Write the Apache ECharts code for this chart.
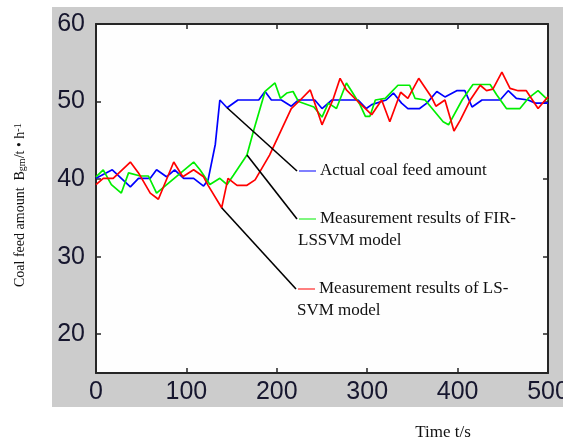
<!DOCTYPE html>
<html>
<head>
<meta charset="utf-8">
<title>Coal feed amount</title>
<script src="https://cdn.jsdelivr.net/npm/echarts@6/dist/echarts.min.js"></script>
<style>
html, body { margin: 0; padding: 0; background: #fff; }
#chartmain { width: 563px; height: 444px; }
</style>
</head>
<body>
<div id="chartmain"></div>
<script>
// tick labels
var xTicks = [0, 100, 200, 300, 400, 500];
var yTicks = [20, 30, 40, 50, 60];

// Actual coal feed amount
var actualTime = [0, 18, 38, 47, 60, 67, 78, 87, 97, 108, 119, 124, 132, 137, 145, 157, 180, 187, 194, 205,
    216, 224, 242, 250, 261, 290, 299, 305, 321, 329, 338, 345, 358, 366, 377, 386, 399, 408, 416, 427,
    447, 456, 465, 478, 486, 500];
var actualValue = [40.1, 41.2, 39.0, 40.1, 40.1, 41.2, 40.3, 41.2, 40.1, 40.1, 39.1, 39.9, 44.5, 50.2, 49.2, 50.2, 50.2, 51.3, 50.2, 50.2,
    49.4, 50.2, 50.2, 49.1, 50.2, 50.2, 49.1, 49.6, 50.2, 51.1, 49.8, 49.1, 49.1, 49.8, 51.3, 50.6, 51.4, 51.4, 49.3, 50.2,
    50.2, 51.4, 50.4, 50.2, 49.8, 49.8];

// Measurement results of FIR-LSSVM model
var firTime = [0, 8, 17, 28, 36, 49, 58, 67, 108, 115, 126, 137, 145, 152, 167, 174, 187, 198, 204, 211,
    218, 224, 241, 250, 257, 266, 277, 283, 292, 298, 303, 309, 320, 334, 347, 353, 364, 384, 390, 405,
    417, 436, 443, 454, 469, 478, 489, 500];
var firValue = [40.3, 41.2, 39.3, 38.2, 40.8, 40.4, 40.4, 38.2, 42.2, 41.2, 39.3, 40.1, 39.3, 40.5, 43.1, 46.1, 51.3, 52.4, 50.4, 51.1,
    51.3, 50.0, 49.3, 48.0, 49.8, 49.1, 52.4, 51.3, 49.6, 48.1, 48.1, 50.2, 50.4, 52.1, 52.1, 50.4, 50.2, 47.4, 47.0, 50.2,
    52.2, 52.2, 50.9, 49.1, 49.1, 50.4, 51.4, 50.2];

// Measurement results of LS-SVM model
var lsTime = [0, 8, 19, 38, 47, 60, 69, 86, 96, 108, 119, 124, 139, 146, 156, 167, 176, 192, 204, 216,
    226, 237, 244, 250, 262, 270, 277, 288, 298, 305, 316, 325, 337, 345, 357, 371, 376, 386, 396, 403,
    414, 425, 432, 439, 449, 458, 467, 476, 489, 500];
var lsValue = [39.3, 40.1, 40.1, 42.2, 40.8, 38.2, 37.4, 42.2, 40.3, 41.2, 40.3, 39.2, 36.3, 40.1, 39.2, 39.2, 39.9, 43.1, 46.1, 49.1,
    50.2, 51.5, 49.1, 47.0, 50.2, 53.0, 51.5, 50.2, 49.1, 48.3, 50.2, 47.4, 51.2, 50.4, 53.0, 50.6, 49.4, 50.2, 46.2, 47.6,
    50.2, 52.1, 51.4, 51.6, 53.8, 51.7, 51.4, 51.4, 49.1, 50.6];

var seriesNames = ['Actual coal feed amount', 'Measurement results of FIR-LSSVM model', 'Measurement results of LS-SVM model'];
var seriesColors = ['#0000ff', '#00ee00', '#ff0000'];
// index of the point each leader line starts from
var leaderPoint = [14, 14, 12];

function pairs(ts, vs) {
    return ts.map(function (t, i) { return [t, vs[i]]; });
}

function setChartMain() {
    var axisColor = '#262626';
    var serif = '"Liberation Serif", "Times New Roman", serif';
    var sans = '"Liberation Sans", Arial, sans-serif';
    var data = [pairs(actualTime, actualValue), pairs(firTime, firValue), pairs(lsTime, lsValue)];

    function xAxisOf(pos, showLabel) {
        return {
            type: 'value', position: pos, min: 0, max: 500, interval: 100,
            axisLine: { onZero: false, lineStyle: { color: axisColor, width: 2 } },
            axisTick: { inside: true, length: 5, lineStyle: { color: axisColor, width: 1.5 } },
            axisLabel: { show: showLabel, fontFamily: sans, fontSize: 25, color: '#16162e', margin: 7,
                customValues: xTicks },
            splitLine: { show: false }
        };
    }
    function yAxisOf(pos, showLabel) {
        return {
            type: 'value', position: pos, min: 15, max: 60,
            axisLine: { onZero: false, lineStyle: { color: axisColor, width: 2 } },
            axisTick: { inside: true, length: 5, customValues: yTicks, lineStyle: { color: axisColor, width: 1.5 } },
            axisLabel: { show: showLabel, fontFamily: sans, fontSize: 25, color: '#16162e', margin: 11,
                customValues: yTicks },
            splitLine: { show: false }
        };
    }

    var option = {
        animation: false,
        backgroundColor: '#ffffff',
        grid: {
            left: 96, top: 24, width: 452, height: 349, show: true, backgroundColor: '#fefefe', borderWidth: 0,
            containLabel: false, outerBoundsMode: 'none'
        },
        xAxis: [xAxisOf('bottom', true), xAxisOf('top', false)],
        yAxis: [yAxisOf('left', true), yAxisOf('right', false)],
        series: data.map(function (d, i) {
            return {
                name: seriesNames[i],
                type: 'line',
                data: d,
                symbol: 'none',
                xAxisIndex: 0,
                yAxisIndex: 0,
                lineStyle: { color: seriesColors[i], width: 1.7 },
                z: 3 + i
            };
        })
    };
    //初始化echarts实例
    var myChart = echarts.init(document.getElementById('chartmain'));
    myChart.setOption(option);

    // gray frame, axis titles, annotations with leader lines
    var graphics = [{
        type: 'rect', z: -100, silent: true,
        shape: { x: 52, y: 7, width: 511, height: 400 },
        style: { fill: '#cccccc' }
    }, {
        type: 'text', x: 443, y: 433, z: 100,
        style: { text: 'Time t/s', font: '17px ' + serif, fill: '#111', align: 'center', verticalAlign: 'middle' }
    }, {
        type: 'text', x: 20, y: 287, z: 100, rotation: Math.PI / 2,
        style: {
            text: 'Coal feed amount  B{sub|gm}/t • h{sup|-1}',
            font: '14px ' + serif, fill: '#111', align: 'left', verticalAlign: 'middle',
            rich: {
                sub: { fontSize: 10, fontFamily: serif, verticalAlign: 'bottom', lineHeight: 10 },
                sup: { fontSize: 10, fontFamily: serif, verticalAlign: 'top', lineHeight: 10 }
            }
        }
    }];

    var leaderEnd = [[297, 171], [297, 219], [296, 289]];
    var labelLines = [
        ['Actual coal feed amount'],
        ['Measurement results of FIR-', 'LSSVM model'],
        ['Measurement results of LS-', 'SVM model']
    ];
    data.forEach(function (d, i) {
        var p = myChart.convertToPixel({ gridIndex: 0 }, d[leaderPoint[i]]);
        var e = leaderEnd[i];
        graphics.push({
            type: 'line', z: 50, silent: true,
            shape: { x1: p[0], y1: p[1], x2: e[0], y2: e[1] },
            style: { stroke: '#000', lineWidth: 1.6 }
        });
        graphics.push({
            type: 'line', z: 50, silent: true,
            shape: { x1: e[0] + 2, y1: e[1], x2: e[0] + 19, y2: e[1] },
            style: { stroke: seriesColors[i], lineWidth: 1 }
        });
        graphics.push({
            type: 'text', x: e[0] + 23, y: e[1], z: 60,
            style: { text: labelLines[i][0], font: '17px ' + serif, fill: '#111', verticalAlign: 'middle' }
        });
        if (labelLines[i][1]) {
            graphics.push({
                type: 'text', x: e[0] + 1, y: e[1] + 22, z: 60,
                style: { text: labelLines[i][1], font: '17px ' + serif, fill: '#111', verticalAlign: 'middle' }
            });
        }
    });
    myChart.setOption({ graphic: graphics });
}
setChartMain();
</script>
</body>
</html>
